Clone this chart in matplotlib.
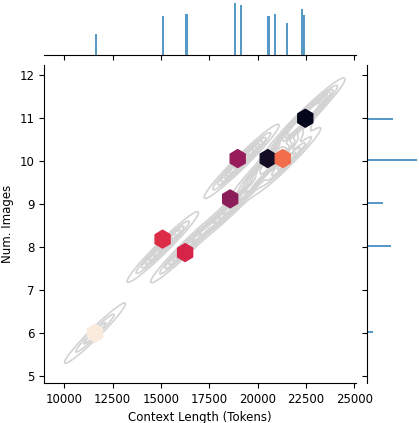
import numpy as np
import matplotlib
matplotlib.use("Agg")
import matplotlib.pyplot as plt
import seaborn as sns

# ---- data ----
context_length = [11588, 15090, 16332, 18795, 19177, 20522, 20884, 21505, 22349, 22468]
num_images = [6, 8, 8, 9, 10, 10, 10, 10, 11, 11]
weight = [21.0, 39.3, 40.6, 52.3, 50.3, 39.0, 41.3, 32.3, 46.3, 39.6]
x_ticks = [10000, 12500, 15000, 17500, 20000, 22500, 25000]
y_ticks = [5, 6, 7, 8, 9, 10, 11, 12]

plt.rcParams['font.family'] = ['DejaVu Sans']
plt.rcParams['font.size'] = 8.5

fig = plt.figure(figsize=(4.19, 4.23), dpi=100)
ax = fig.add_axes([0.1057, 0.0946, 0.7439, 0.7518])
axx = fig.add_axes([0.1057, 0.8707, 0.7439, 0.1293], sharex=ax)
axy = fig.add_axes([0.8752, 0.0946, 0.1248, 0.7518], sharey=ax)

sns.kdeplot(x=context_length, y=num_images, weights=weight, ax=ax,
            color='lightgray', bw_adjust=0.4, linewidths=1.2, zorder=1)
ax.hexbin(context_length, num_images, C=weight, reduce_C_function=np.sum,
          gridsize=14, bins='log', cmap='rocket_r', zorder=3)

sns.histplot(x=context_length, weights=weight, bins=100, ax=axx, color='C0',
             edgecolor='none', linewidth=0)
sns.histplot(y=num_images, weights=weight, bins=100, ax=axy, color='C0',
             edgecolor='none', linewidth=0)

ax.set_xticks(x_ticks)
ax.set_yticks(y_ticks)
ax.set_xlim(8965, 25090)
ax.set_ylim(4.84, 12.24)
ax.set_xlabel('Context Length (Tokens)')
ax.set_ylabel('Num. Images')
for s in ['top', 'right']:
    ax.spines[s].set_visible(False)

axx.set_ylim(0, max(weight) * 1.05)
axx.tick_params(labelbottom=False, left=False, labelleft=False)
axx.set_ylabel('')
axx.set_xlabel('')
for s in ['top', 'right', 'left']:
    axx.spines[s].set_visible(False)

axy.tick_params(labelleft=False, bottom=False, labelbottom=False)
axy.set_xlabel('')
axy.set_ylabel('')
for s in ['top', 'right', 'bottom']:
    axy.spines[s].set_visible(False)

fig.savefig('out.png', dpi=100)
